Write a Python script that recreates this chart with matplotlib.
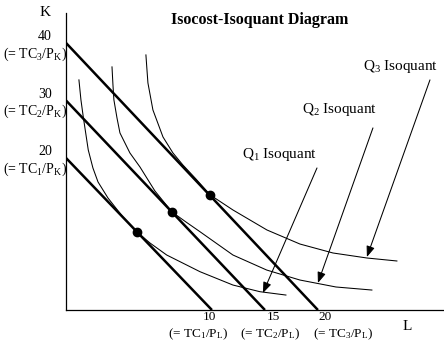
import matplotlib.pyplot as plt

plt.rcParams['font.family'] = 'Liberation Serif'
plt.rcParams['mathtext.fontset'] = 'custom'
plt.rcParams['mathtext.rm'] = 'Liberation Serif'
plt.rcParams['mathtext.it'] = 'Liberation Serif:italic'

# isocost lines: intercepts on the K axis (TC/PK) and on the L axis (TC/PL)
k_intercepts = [20, 30, 40]
l_intercepts = [10, 15, 20]
k_notes = ['(= TC$_1$/P$_\\mathrm{K}$)', '(= TC$_2$/P$_\\mathrm{K}$)', '(= TC$_3$/P$_\\mathrm{K}$)']
l_notes = ['(= TC$_1$/P$_\\mathrm{L}$)', '(= TC$_2$/P$_\\mathrm{L}$)', '(= TC$_3$/P$_\\mathrm{L}$)']

# tangency points
opt_L = [2.90, 6.23, 9.81]
opt_K = [7.18, 10.61, 13.55]

# isoquants
q1_L = [-2.55, -2.36, -2.14, -1.67, -1.23, -0.75, 0.19, 1.60, 2.90, 4.15, 5.73, 8.87,
        11.98, 14.53, 16.98]
q1_K = [33.57, 30.09, 27.13, 21.39, 18.26, 15.83, 13.04, 9.74, 7.18, 5.22, 3.13, 0.23,
        -2.09, -3.25, -3.83]
q2_L = [0.57, 0.66, 0.75, 1.04, 1.32, 2.26, 3.21, 4.62, 6.23, 7.55, 8.87, 11.98, 15.16,
        18.30, 21.70, 25.09]
q2_K = [35.83, 32.70, 30.09, 26.96, 24.35, 20.87, 18.43, 14.26, 10.61, 8.87, 7.18, 3.13,
        0.52, -1.22, -2.43, -2.96]
q3_L = [3.77, 3.87, 3.96, 4.43, 5.38, 6.32, 7.26, 8.49, 9.81, 11.98, 15.19, 18.30, 21.42,
        24.62, 27.45]
q3_K = [37.91, 35.30, 33.04, 28.35, 23.65, 20.87, 18.78, 16.35, 13.6, 10.96, 7.48, 5.04,
        3.48, 2.61, 2.09]

xmin, xmax = -3.77, 31.8
ymin, ymax = -6.43, 45.2

fig = plt.figure(figsize=(4.44, 3.47), dpi=100)
ax = fig.add_axes([66 / 444, 37 / 347, 377 / 444, 297 / 347])
ax.set_xlim(xmin, xmax)
ax.set_ylim(ymin, ymax)
ax.set_xticks([])
ax.set_yticks([])
ax.spines['top'].set_visible(False)
ax.spines['right'].set_visible(False)
ax.spines['left'].set_linewidth(0.9)
ax.spines['bottom'].set_linewidth(0.9)

# isocost lines
for k, l in zip(k_intercepts, l_intercepts):
    ax.plot([xmin, l], [k, ymin], color='black', lw=1.8, solid_capstyle='butt')

# isoquants
for qx, qy in [(q1_L, q1_K), (q2_L, q2_K), (q3_L, q3_K)]:
    ax.plot(qx, qy, color='black', lw=0.75)

ax.plot(opt_L, opt_K, 'o', color='black', markersize=6)

# axis value labels
for k, note in zip(k_intercepts, k_notes):
    ax.annotate(str(k), xy=(xmin, k), xytext=(-21, 6), textcoords='offset pixels',
                ha='center', va='center', fontsize=10, annotation_clip=False)
    ax.annotate(note, xy=(xmin, k), xytext=(-31, -11), textcoords='offset pixels',
                ha='center', va='center', fontsize=10, annotation_clip=False)

num_dx = [-2, 8, 7]
note_dx = [-14, 5, 25]
for l, note, dn, dt in zip(l_intercepts, l_notes, num_dx, note_dx):
    ax.annotate(str(l), xy=(l, ymin), xytext=(dn, -7), textcoords='offset pixels',
                ha='center', va='center', fontsize=9.5, annotation_clip=False)
    ax.annotate(note, xy=(l, ymin), xytext=(dt, -24), textcoords='offset pixels',
                ha='center', va='center', fontsize=9.5, annotation_clip=False)

ax.annotate('K', xy=(xmin, ymax), xytext=(-21, 1), textcoords='offset pixels',
            ha='center', va='center', fontsize=11, annotation_clip=False)
ax.annotate('L', xy=(28.4, ymin), xytext=(0, -16), textcoords='offset pixels',
            ha='center', va='center', fontsize=11, annotation_clip=False)

# isoquant labels with arrows
arrow_props = dict(arrowstyle='-|>,head_length=0.65,head_width=0.25', color='black',
                   lw=0.75, shrinkA=0, shrinkB=0, mutation_scale=10)
ax.annotate('', xy=(14.81, -3.48), xytext=(19.91, 18.26), arrowprops=arrow_props)
ax.annotate('', xy=(20.0, -1.74), xytext=(25.19, 25.22), arrowprops=arrow_props)
ax.annotate('', xy=(24.62, 2.78), xytext=(30.57, 33.57), arrowprops=arrow_props)
ax.text(16.42, 20.52, 'Q$_1$ Isoquant', ha='center', va='center', fontsize=11)
ax.text(22.08, 28.35, 'Q$_2$ Isoquant', ha='center', va='center', fontsize=11)
ax.text(27.83, 35.83, 'Q$_3$ Isoquant', ha='center', va='center', fontsize=11)

fig.text(260 / 444, 1 - 20 / 347, 'Isocost-Isoquant Diagram', ha='center', va='center',
         fontsize=11.5, fontweight='bold')

fig.savefig('out.png', dpi=100)
